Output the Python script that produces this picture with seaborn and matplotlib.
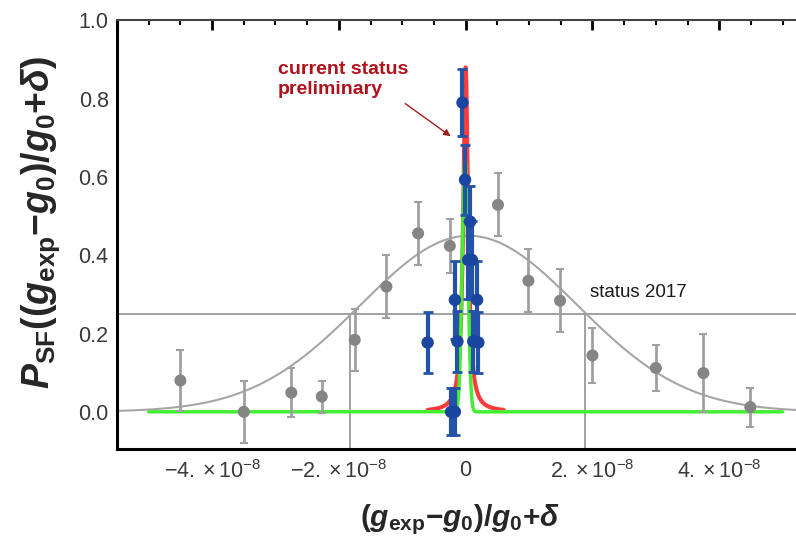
import numpy as np
import pandas as pd
import seaborn as sns
import matplotlib.pyplot as plt
from matplotlib.ticker import FixedLocator, MultipleLocator, FixedFormatter

# --- data (x in units of 1e-8) ---
gray_x = [-4.5, -3.5, -2.75, -2.27, -1.75, -1.25, -0.75, -0.25, 0.51, 0.99, 1.49, 2.0, 3.0, 3.75, 4.49]
gray_y = [0.08, 0.0, 0.049, 0.039, 0.184, 0.32, 0.456, 0.424, 0.529, 0.335, 0.284, 0.144, 0.112, 0.099, 0.012]
gray_err = [0.078, 0.08, 0.062, 0.041, 0.08, 0.08, 0.08, 0.07, 0.08, 0.08, 0.08, 0.07, 0.06, 0.1, 0.05]

blue_x = [-0.05, -0.01, 0.07, 0.04, 0.10, -0.17, 0.18, -0.13, 0.20, 0.12, -0.60, -0.23, -0.17]
blue_y = [0.79, 0.593, 0.486, 0.388, 0.388, 0.286, 0.286, 0.18, 0.177, 0.18, 0.177, 0.0, 0.0]
blue_err = [0.085, 0.09, 0.09, 0.1, 0.1, 0.1, 0.1, 0.077, 0.077, 0.077, 0.077, 0.06, 0.06]

# fitted curves: (amplitude, centre, width)
old_fit = (0.45, 0.05, 1.71)      # gaussian, status 2017
new_gauss = (0.65, -0.01, 0.044)  # green
new_lorentz = (0.88, 0.0, 0.045)  # red

threshold = 0.25
cross_x = [-1.82, 1.89]

xticks = [-4, -2, 0, 2, 4]
xtick_labels = [r'$-4.\times10^{-8}$', r'$-2.\times10^{-8}$', '0', r'$2.\times10^{-8}$', r'$4.\times10^{-8}$']
yticks = [0.0, 0.2, 0.4, 0.6, 0.8, 1.0]

SCALE = 1e-8

sns.set_theme(style='white')
plt.rcParams['font.family'] = ['Liberation Sans', 'DejaVu Sans']
plt.rcParams['mathtext.fontset'] = 'custom'
plt.rcParams['mathtext.rm'] = 'Liberation Sans'
plt.rcParams['mathtext.it'] = 'Liberation Sans:italic:bold'
plt.rcParams['mathtext.bf'] = 'Liberation Sans:bold'

fig = plt.figure(figsize=(7.96, 5.42), dpi=100)
ax = fig.add_axes([0.147, 0.1716, 0.876, 0.7906])

# curves
xs_full = np.linspace(-5.5, 5.5, 1200)
a, m, s = old_fit
df_old = pd.DataFrame({'x': xs_full * SCALE, 'y': a * np.exp(-(xs_full - m) ** 2 / (2 * s ** 2))})
sns.lineplot(data=df_old, x='x', y='y', ax=ax, color='#a6a6a6', lw=1.5, zorder=2)

xs_g = np.concatenate([np.linspace(-5, -0.5, 50), np.linspace(-0.5, 0.5, 800), np.linspace(0.5, 5, 50)])
a, m, s = new_gauss
df_g = pd.DataFrame({'x': xs_g * SCALE, 'y': a * np.exp(-(xs_g - m) ** 2 / (2 * s ** 2))})

xs_r = np.linspace(-0.6, 0.6, 1200)
a, m, g = new_lorentz
df_r = pd.DataFrame({'x': xs_r * SCALE, 'y': a / (1 + ((xs_r - m) / g) ** 2)})
sns.lineplot(data=df_r, x='x', y='y', ax=ax, color='#ff3b3b', lw=3, zorder=3)
sns.lineplot(data=df_g, x='x', y='y', ax=ax, color='#44ee33', lw=2.5, zorder=3.5)

# threshold lines
ax.axhline(threshold, color='#9a9a9a', lw=1.3, zorder=1)
for cx in cross_x:
    ax.plot([cx * SCALE, cx * SCALE], [-0.1, threshold], color='#9a9a9a', lw=1.3, zorder=1)

# gray points
gx = np.array(gray_x) * SCALE
ax.errorbar(gx, gray_y, yerr=gray_err, fmt='none', ecolor='#a0a0a0', elinewidth=2, capsize=3, capthick=1.5, zorder=4)
sns.scatterplot(x=gx, y=gray_y, ax=ax, color='#858585', s=75, edgecolor='none', zorder=5)

# blue points
bx = np.array(blue_x) * SCALE
ax.errorbar(bx, blue_y, yerr=blue_err, fmt='none', ecolor='#2452a8', elinewidth=3, capsize=3.5, capthick=2, zorder=6)
sns.scatterplot(x=bx, y=blue_y, ax=ax, color='#1a46a0', s=80, edgecolor='none', zorder=7)

# text
ax.text(-2.96 * SCALE, 0.85, 'current status\npreliminary', color='#b0121c', fontsize=14,
        fontweight='bold', va='center', ha='left', linespacing=1.25)
ax.annotate('', xy=(-0.2 * SCALE, 0.70), xytext=(-0.99 * SCALE, 0.792),
            arrowprops=dict(arrowstyle='-|>', color='#a02020', lw=1, mutation_scale=10))
ax.text(1.96 * SCALE, 0.306, 'status 2017', fontsize=13.5, color='#1a1a1a', va='center', ha='left')

# axes
ax.set_xlim(-5.5 * SCALE, 5.5 * SCALE)
ax.set_ylim(-0.095, 1.0)
ax.xaxis.set_major_locator(FixedLocator([t * SCALE for t in xticks]))
ax.xaxis.set_major_formatter(FixedFormatter(xtick_labels))
ax.xaxis.set_minor_locator(MultipleLocator(0.5 * SCALE))
ax.set_yticks(yticks)
ax.set_yticklabels([f'{v:.1f}' for v in yticks])
ax.yaxis.set_minor_locator(MultipleLocator(0.05))
ax.tick_params(which='both', direction='in', colors='black', labelcolor='#3a3a3a', labelsize=15.5)
ax.tick_params(axis='x', which='both', top=True)
ax.tick_params(which='major', length=7, width=2)
ax.tick_params(which='minor', length=3.5, width=1.5)
ax.tick_params(axis='x', pad=8)
ax.tick_params(axis='y', pad=6)

for side in ['left', 'bottom']:
    ax.spines[side].set_linewidth(2.2)
    ax.spines[side].set_color('black')
ax.spines['top'].set_linewidth(1.5)
ax.spines['top'].set_color('#444444')
ax.spines['right'].set_visible(False)

ax.set_xlabel(r'$\mathbf{(}g_{\mathbf{exp}}\mathbf{-}g_{\mathbf{0}}\mathbf{)/}g_{\mathbf{0}}\mathbf{+}\delta$',
              fontsize=21.5)
ax.xaxis.set_label_coords((460 - 116.8) / (0.876 * 796), -(520 - 449) / (0.7906 * 542))
ax.xaxis.label.set_va('center')
ax.set_ylabel(r'$P_{\mathbf{SF}}\mathbf{((}g_{\mathbf{exp}}\mathbf{-}g_{\mathbf{0}}\mathbf{)/}g_{\mathbf{0}}\mathbf{+}\delta\mathbf{)}$',
              fontsize=27)
ax.yaxis.set_label_coords(-(116.8 - 40) / (0.876 * 796), (449 - 222) / (0.7906 * 542))
ax.yaxis.label.set_va('center')

fig.savefig('out.png', dpi=100)
